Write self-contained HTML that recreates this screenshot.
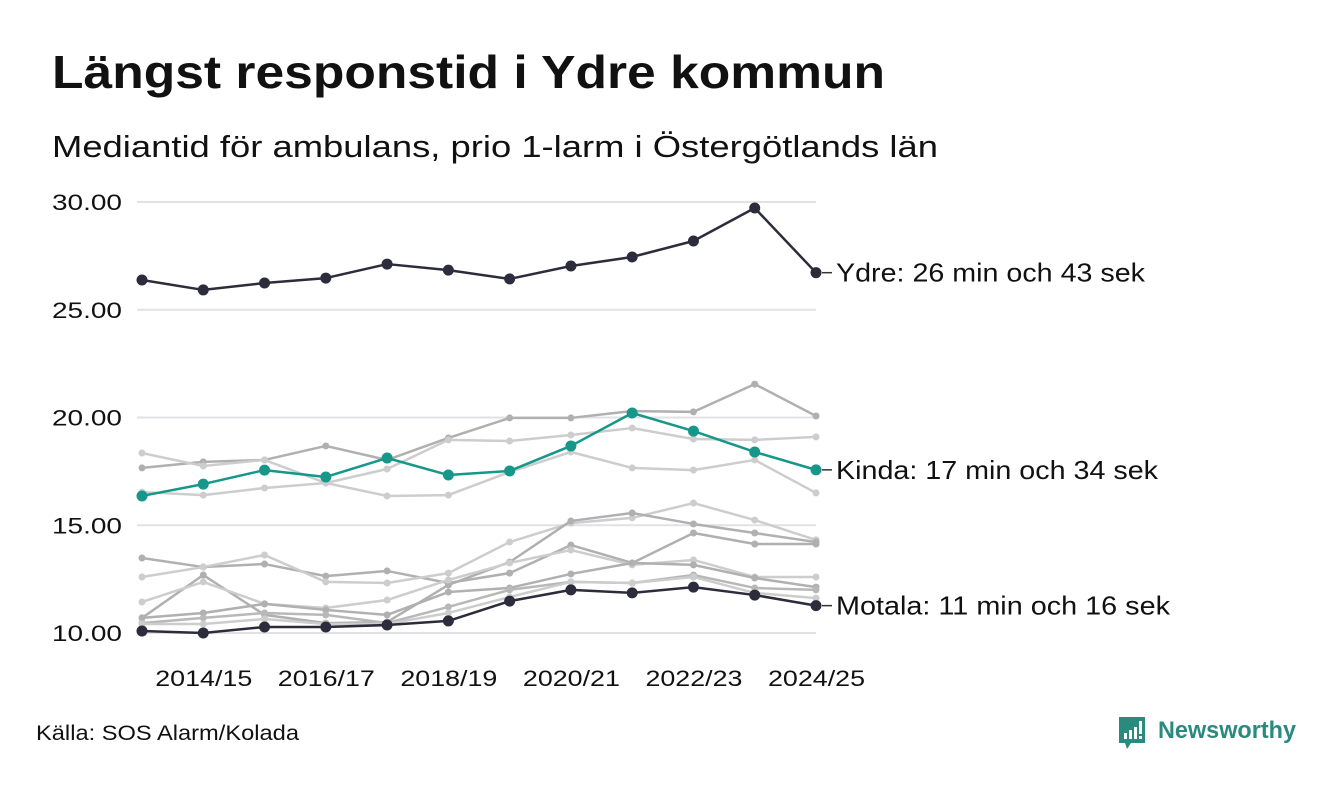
<!DOCTYPE html>
<html><head><meta charset="utf-8">
<style>
body{margin:0;background:#fff;width:1340px;height:780px;overflow:hidden;font-family:"Liberation Sans",sans-serif;}
svg text{font-family:"Liberation Sans",sans-serif;}
</style></head>
<body>
<svg id="chart" width="1340" height="780">
<text x="52" y="88" font-size="46" font-weight="bold" fill="#111" textLength="833" lengthAdjust="spacingAndGlyphs">Längst responstid i Ydre kommun</text>
<text x="52" y="157" font-size="31" fill="#111" textLength="886" lengthAdjust="spacingAndGlyphs">Mediantid för ambulans, prio 1-larm i Östergötlands län</text>
<g id="grid"></g><g id="gray"></g><g id="main"></g><g id="labels"></g>
<text x="36" y="740" font-size="21" fill="#111" textLength="263" lengthAdjust="spacingAndGlyphs">Källa: SOS Alarm/Kolada</text>
<g>
<path d="M1119 717 h26 v26 h-14 l-4 6 l-2 -6 h-6 z" fill="#2a8a7e"/>
<rect x="1124" y="733" width="3" height="6" fill="#fff"/><rect x="1129" y="730" width="3" height="9" fill="#fff"/><rect x="1134" y="727" width="3" height="12" fill="#fff"/><rect x="1139" y="721" width="3" height="13" fill="#fff"/><rect x="1139" y="736" width="3" height="3" fill="#fff"/>
<text x="1158" y="738" font-size="24" font-weight="bold" fill="#2a8a7e" textLength="138" lengthAdjust="spacingAndGlyphs">Newsworthy</text>
</g>
</svg>
<script>
const categories=["2013/14","2014/15","2015/16","2016/17","2017/18","2018/19","2019/20","2020/21","2021/22","2022/23","2023/24","2024/25"];
const tickLabels=["2014/15","2016/17","2018/19","2020/21","2022/23","2024/25"];
const yTicks=[10,15,20,25,30];
const ydre=[26.38,25.92,26.24,26.47,27.12,26.84,26.43,27.03,27.45,28.19,29.72,26.72];
const kinda=[16.36,16.91,17.56,17.24,18.12,17.33,17.52,18.68,20.21,19.37,18.40,17.57];
const motala=[10.09,10.0,10.28,10.28,10.37,10.56,11.48,12.0,11.86,12.13,11.76,11.27];
const grayA=[17.66,17.94,18.03,18.68,18.03,19.05,19.98,19.98,20.30,20.26,21.55,20.07];
const grayB=[18.35,17.75,18.03,16.96,16.36,16.40,17.47,18.40,17.66,17.56,18.03,16.50];
const grayC=[16.54,16.40,16.73,16.96,17.61,18.96,18.91,19.19,19.51,19.00,18.96,19.10];
const grayD=[13.48,13.06,13.20,12.64,12.88,12.32,12.78,14.08,13.25,14.64,14.13,14.13];
const grayE=[12.60,13.06,13.62,12.37,12.32,12.78,14.22,15.10,15.34,16.03,15.24,14.32];
const grayF=[10.70,12.69,10.84,10.46,10.51,12.23,13.29,15.20,15.57,15.06,14.64,14.22];
const grayG=[11.44,12.37,11.35,11.16,11.53,12.46,13.25,13.85,13.16,13.39,12.60,12.60];
const grayH=[10.70,10.93,11.35,11.07,10.84,11.90,12.09,12.74,13.25,13.16,12.55,12.13];
const grayI=[10.46,10.70,10.93,10.84,10.46,11.21,12.00,12.37,12.32,12.69,12.09,12.00];
const grayJ=[10.42,10.42,10.65,10.42,10.42,10.93,11.67,12.37,12.32,12.60,11.86,11.62];
const grays=[[grayA,"#b0b0b0"],[grayB,"#cdcdcd"],[grayC,"#cdcdcd"],[grayD,"#b0b0b0"],[grayE,"#cdcdcd"],[grayF,"#b0b0b0"],[grayG,"#cdcdcd"],[grayH,"#b0b0b0"],[grayI,"#b8b8b8"],[grayJ,"#cdcdcd"]];
const NS="http://www.w3.org/2000/svg";
const x=i=>142+i*(816-142)/(categories.length-1);
const y=v=>633-(v-10)*(633-202)/20;
function mk(tag,attrs,parent){const e=document.createElementNS(NS,tag);for(const k in attrs)e.setAttribute(k,attrs[k]);parent.appendChild(e);return e;}
const grid=document.getElementById('grid');
yTicks.forEach(t=>{
 const l=mk('line',{x1:137,x2:816,y1:y(t),y2:y(t),stroke:'#e2e2e6','stroke-width':2},grid);
 
 
 const tx=mk('text',{x:52,y:y(t)+8,'font-size':22,fill:'#111',textLength:70,lengthAdjust:'spacingAndGlyphs'},grid);tx.textContent=t.toFixed(2);
 
 
});
tickLabels.forEach(lab=>{
 const i=categories.indexOf(lab);
 const tx=mk('text',{x:x(i)-48,y:686,'font-size':22,fill:'#111',textLength:97,lengthAdjust:'spacingAndGlyphs'},grid);tx.textContent=lab;
 
 
});
function series(vals,color,w,r,parent,name){
 const g=mk('g',{},parent);
 
 
 mk('polyline',{points:vals.map((v,i)=>x(i)+','+y(v)).join(' '),fill:'none',stroke:color,'stroke-width':w,'stroke-linejoin':'round'},g);
 vals.forEach((v,i)=>{const c=mk('circle',{cx:x(i),cy:y(v),r:r,fill:color},g);
  
  });
}
const gg=document.getElementById('gray');
grays.forEach((s,k)=>series(s[0],s[1],2.5,3.5,gg,'other-municipality-line'));
const mg=document.getElementById('main');
series(kinda,'#16978a',2.5,5.5,mg,'kinda-line');
series(motala,'#2d2c3c',2.5,5.5,mg,'motala-line');
series(ydre,'#2d2c3c',2.5,5.5,mg,'ydre-line');
const lg=document.getElementById('labels');
[[ydre,'Ydre: 26 min och 43 sek',309],[kinda,'Kinda: 17 min och 34 sek',322],[motala,'Motala: 11 min och 16 sek',334]].forEach(([s,t,w])=>{
 const yy=y(s[s.length-1]);
 mk('line',{x1:822,x2:832,y1:yy,y2:yy,stroke:'#333','stroke-width':1.5},lg);
 const tx=mk('text',{x:836,y:yy+9,'font-size':26,fill:'#111',textLength:w,lengthAdjust:'spacingAndGlyphs'},lg);tx.textContent=t;
 
 
});
</script>
</body></html>
